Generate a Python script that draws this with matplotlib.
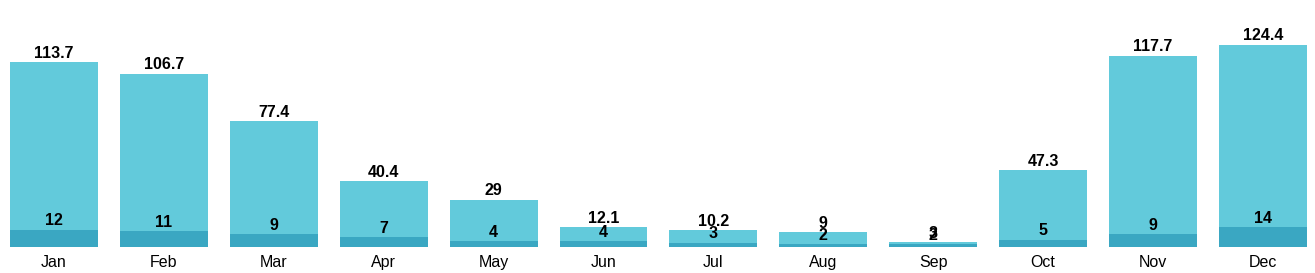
import matplotlib.pyplot as plt

plt.rcParams['font.family'] = ['Liberation Sans', 'DejaVu Sans']

months = ["Jan", "Feb", "Mar", "Apr", "May", "Jun", "Jul", "Aug", "Sep", "Oct", "Nov", "Dec"]
precip = [113.7, 106.7, 77.4, 40.4, 29, 12.1, 10.2, 9, 3, 47.3, 117.7, 124.4]
days = [12, 11, 9, 7, 4, 4, 3, 2, 2, 5, 9, 14]

fig = plt.figure(figsize=(13.15, 2.73), dpi=100)
ax = fig.add_axes([0, 26 / 273, 1, 247 / 273])
ax2 = ax.twinx()

x = list(range(len(months)))
b1 = ax.bar(x, precip, width=0.8, color="#62cadb", zorder=2)
b2 = ax2.bar(x, days, width=0.8, color="#3aa7c2", zorder=2)

ax.set_ylim(0, 152)
ax2.set_ylim(0, 173)
ax.set_xlim(-0.491, 11.474)

for a in (ax, ax2):
    for s in a.spines.values():
        s.set_visible(False)
    a.set_yticks([])

ax.set_xticks(x)
ax.set_xticklabels(months, fontsize=11.5)
ax.tick_params(axis="x", length=0, pad=6)

ax.bar_label(b1, labels=[f"{v:g}" for v in precip], padding=1, fontsize=11.5, fontweight="bold")
ax2.bar_label(b2, labels=[str(v) for v in days], padding=1, fontsize=11.5, fontweight="bold")

fig.savefig("out.png", dpi=100)
